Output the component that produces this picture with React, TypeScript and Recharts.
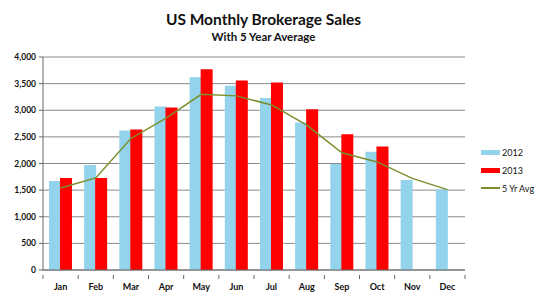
import React from 'react';
import { ComposedChart, Bar, Line, XAxis, YAxis, CartesianGrid } from 'recharts';

const months = ['Jan', 'Feb', 'Mar', 'Apr', 'May', 'Jun', 'Jul', 'Aug', 'Sep', 'Oct', 'Nov', 'Dec'];
const sales2012 = [1670, 1970, 2620, 3070, 3620, 3460, 3230, 2770, 1990, 2220, 1690, 1510];
const sales2013 = [1730, 1730, 2640, 3050, 3770, 3560, 3520, 3020, 2550, 2320, null, null];
const fiveYrAvg = [1540, 1730, 2470, 2850, 3300, 3270, 3100, 2720, 2200, 2030, 1720, 1510];
const yTicks = [0, 500, 1000, 1500, 2000, 2500, 3000, 3500, 4000];

const data = months.map((m, i) => ({
  month: m,
  y2012: sales2012[i],
  y2013: sales2013[i],
  avg: fiveYrAvg[i],
}));

const FONT = 'Lato, "Liberation Sans", sans-serif';
const BLUE = '#93D3EC';
const RED = '#FF0000';
const OLIVE = '#7A8F2C';

const MonthTick = (props: any) => {
  const { x, y, payload } = props;
  const half = payload && payload.offset ? payload.offset : 17.6;
  return (
    <g>
      <line x1={x - half} y1={y - 3} x2={x - half} y2={y + 1} stroke="#666" />
      {payload.index === months.length - 1 && (
        <line x1={x + half} y1={y - 3} x2={x + half} y2={y + 1} stroke="#666" />
      )}
      <text x={x} y={y + 12} textAnchor="middle" fontSize={9} fontWeight="bold" fill="#111" fontFamily={FONT}>
        {payload.value}
      </text>
    </g>
  );
};

const legendItems = [
  { label: '2012', color: BLUE, kind: 'bar' },
  { label: '2013', color: RED, kind: 'bar' },
  { label: '5 Yr Avg', color: OLIVE, kind: 'line' },
];

export default function App() {
  return (
    <div style={{ position: 'fixed', left: 0, top: 0, width: 546, height: 292, background: '#fff' }}>
      <div
        style={{
          position: 'absolute',
          left: 0,
          width: 527,
          top: 9,
          textAlign: 'center',
          fontFamily: FONT,
          fontWeight: 'bold',
          color: '#111',
        }}
      >
        <div style={{ fontSize: 15.5, lineHeight: '20px' }}>US Monthly Brokerage Sales</div>
        <div style={{ fontSize: 11.5, lineHeight: '15px' }}>With 5 Year Average</div>
      </div>
      <div style={{ position: 'absolute', left: 481, top: 143, fontFamily: FONT, fontSize: 9, color: '#111' }}>
        {legendItems.map((it) => (
          <div key={it.label} style={{ display: 'flex', alignItems: 'center', height: 18 }}>
            <div style={{ width: 19, height: it.kind === 'bar' ? 5 : 1.5, background: it.color, marginRight: 2 }} />
            <span>{it.label}</span>
          </div>
        ))}
      </div>
      <ComposedChart
        width={546}
        height={292}
        data={data}
        margin={{ top: 57, right: 81, bottom: 0, left: 0 }}
        barGap={-1}
        barCategoryGap="17%"
      >
        <CartesianGrid vertical={false} stroke="#8a8a8a" strokeWidth={1} />
        <XAxis
          dataKey="month"
          height={22}
          tick={<MonthTick />}
          tickLine={false}
          axisLine={{ stroke: '#666' }}
          interval={0}
        />
        <YAxis
          width={43}
          domain={[0, 4000]}
          ticks={yTicks}
          tickFormatter={(v: number) => v.toLocaleString('en-US')}
          tick={{ fontSize: 8.5, fontWeight: 'bold', fill: '#111', fontFamily: FONT }}
          tickSize={4}
          tickMargin={3}
          tickLine={{ stroke: '#666' }}
          axisLine={{ stroke: '#666' }}
        />
        <Bar dataKey="y2012" name="2012" fill={BLUE} isAnimationActive={false} />
        <Bar dataKey="y2013" name="2013" fill={RED} isAnimationActive={false} />
        <Line
          dataKey="avg"
          name="5 Yr Avg"
          type="linear"
          stroke={OLIVE}
          strokeWidth={1.5}
          dot={false}
          isAnimationActive={false}
        />
      </ComposedChart>
    </div>
  );
}
